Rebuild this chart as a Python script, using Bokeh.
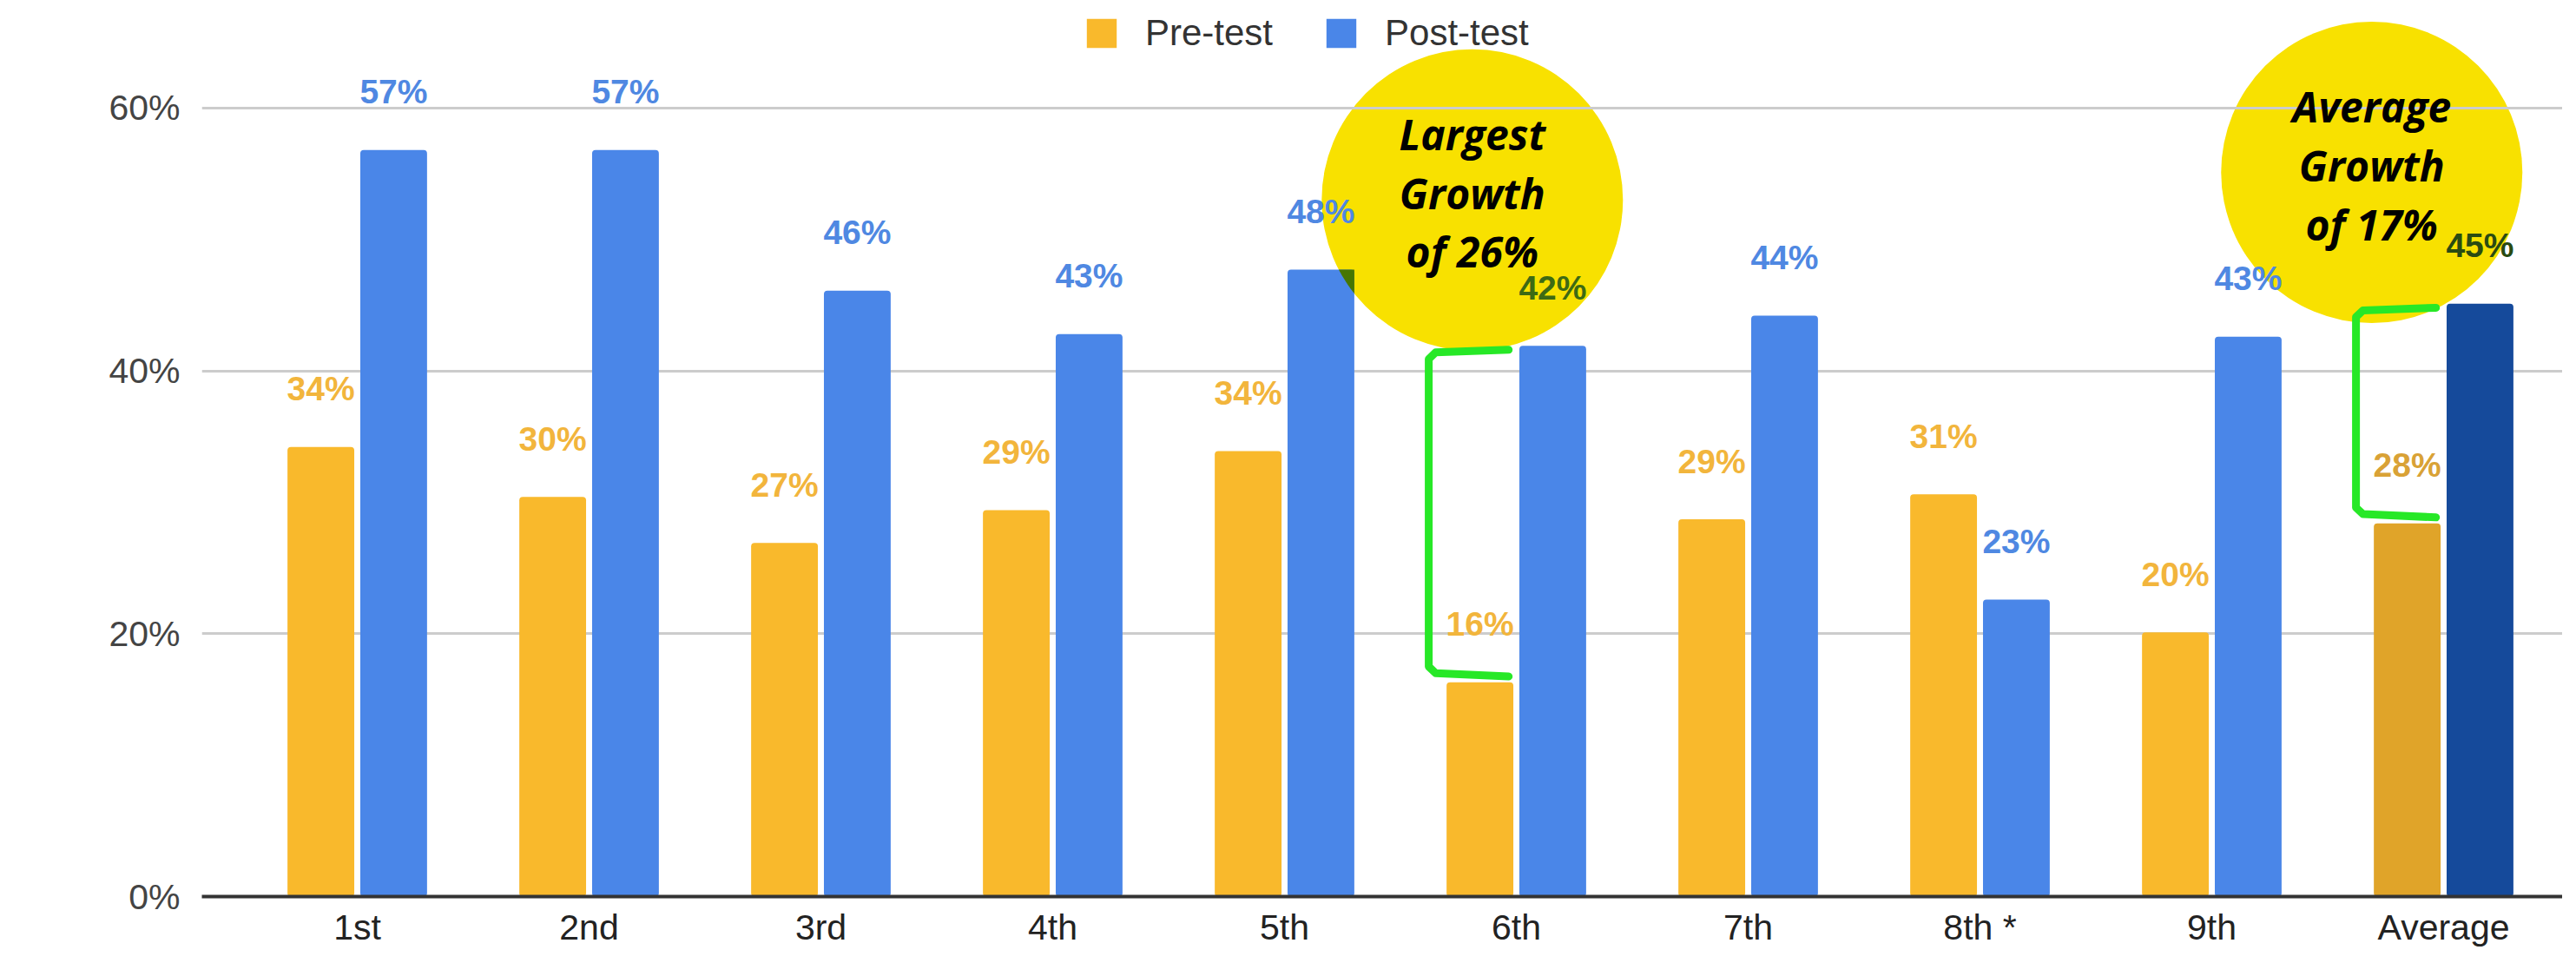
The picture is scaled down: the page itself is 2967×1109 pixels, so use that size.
import math
from bokeh.plotting import figure
from bokeh.models import (ColumnDataSource, Range1d, FixedTicker, PrintfTickFormatter,
                          Legend, LegendItem, Label)
from bokeh.transform import dodge
from bokeh.core.properties import value
from bokeh.embed import file_html
from bokeh.resources import INLINE

# ---------------- data ----------------
grades = ["1st", "2nd", "3rd", "4th", "5th", "6th", "7th", "8th *", "9th", "Average"]
pre_test = [34.2, 30.4, 26.9, 29.4, 33.9, 16.3, 28.7, 30.6, 20.1, 28.4]
post_test = [56.8, 56.8, 46.1, 42.8, 47.7, 41.9, 44.2, 22.6, 42.6, 45.1]
y_ticks = [0, 20, 40, 60]

# callouts
callout_grades = ["6th", "Average"]
callout_texts = ["Largest\nGrowth\nof 26%", "Average\nGrowth\nof 17%"]
callout_x = [4.81, 8.69]      # circle centres (data coordinates)
callout_y = [53.0, 55.1]

# ---------------- styling ----------------
PRE = "#f9b92c"
POST = "#4a86e8"
AVG_PRE = "#e0a429"
AVG_POST = "#154a9b"
PRE_LBL = "#f2b53c"
POST_LBL = "#4f88e2"
AVG_PRE_LBL = "#d9a236"
OLIVE = "#3d6a14"
DARK_OLIVE = "#2a4b12"
YELLOW = "#f8e100"
GREEN = "#27e827"
FONT = "Liberation Sans"

OFF = 0.157
BW = 0.288
CIRCLE_D = 347          # px
X0, X1 = -0.6704, 9.513
Y0, Y1 = 0, 68.18
FRAME_W, FRAME_H = 2719, 1033
SX = FRAME_W / (X1 - X0)
SY = FRAME_H / (Y1 - Y0)

n = len(grades)
idx = list(range(n))
is_avg = [g == "Average" for g in grades]

pre_color = [AVG_PRE if a else PRE for a in is_avg]
post_color = [AVG_POST if a else POST for a in is_avg]
pre_lbl_color = [AVG_PRE_LBL if a else PRE_LBL for a in is_avg]
post_lbl_color = []
for g, a in zip(grades, is_avg):
    if a:
        post_lbl_color.append(DARK_OLIVE)
    elif g in callout_grades:
        post_lbl_color.append(OLIVE)
    else:
        post_lbl_color.append(POST_LBL)

src = ColumnDataSource(dict(
    x=idx, pre=pre_test, post=post_test,
    pre_label=[f"{round(v)}%" for v in pre_test],
    post_label=[f"{round(v)}%" for v in post_test],
    pre_color=pre_color, post_color=post_color,
    pre_lbl_color=pre_lbl_color, post_lbl_color=post_lbl_color,
))

p = figure(width=2951, height=1093,
           x_range=Range1d(X0, X1), y_range=Range1d(Y0, Y1),
           output_backend="svg", toolbar_location=None,
           min_border_left=232, min_border_right=0, min_border_top=0, min_border_bottom=60)
p.outline_line_color = None
p.background_fill_color = "white"
p.xgrid.visible = False

# highlight circles (lowest level, under grid and bars)
p.scatter(x=callout_x, y=callout_y, size=CIRCLE_D, marker="circle",
          fill_color=YELLOW, line_color=None, level="image")

# bars
r_pre = p.vbar(x=dodge("x", -OFF), top="pre", bottom=0, width=BW, source=src,
               fill_color="pre_color", line_color=None, border_radius=4)
r_post = p.vbar(x=dodge("x", OFF), top="post", bottom=0, width=BW, source=src,
                fill_color="post_color", line_color=None, border_radius=4)


# highlighter (multiply) look where a circle overlaps a bar
def hex_rgb(h):
    h = h.lstrip("#")
    return tuple(int(h[k:k + 2], 16) for k in (0, 2, 4))


def multiply(c1, c2):
    a, b = hex_rgb(c1), hex_rgb(c2)
    return "#%02x%02x%02x" % tuple(int(u * v / 255) for u, v in zip(a, b))


def clip(poly, xmin, xmax, ymin, ymax):
    def clip_edge(pts, inside, inter):
        out = []
        for k in range(len(pts)):
            cur, prev = pts[k], pts[k - 1]
            if inside(cur):
                if not inside(prev):
                    out.append(inter(prev, cur))
                out.append(cur)
            elif inside(prev):
                out.append(inter(prev, cur))
        return out

    def ix(xc):
        return lambda p1, p2: (xc, p1[1] + (p2[1] - p1[1]) * (xc - p1[0]) / (p2[0] - p1[0]))

    def iy(yc):
        return lambda p1, p2: (p1[0] + (p2[0] - p1[0]) * (yc - p1[1]) / (p2[1] - p1[1]), yc)

    pts = poly
    for inside, inter in ((lambda q: q[0] >= xmin, ix(xmin)), (lambda q: q[0] <= xmax, ix(xmax)),
                          (lambda q: q[1] >= ymin, iy(ymin)), (lambda q: q[1] <= ymax, iy(ymax))):
        if not pts:
            break
        pts = clip_edge(pts, inside, inter)
    return pts


ov_xs, ov_ys, ov_col = [], [], []
r_px = CIRCLE_D / 2
for cx, cy in zip(callout_x, callout_y):
    circ = [(cx * SX + r_px * math.cos(t * math.pi / 90), cy * SY + r_px * math.sin(t * math.pi / 90))
            for t in range(180)]
    for vals, cols, off in ((pre_test, pre_color, -OFF), (post_test, post_color, OFF)):
        for i, (v, c) in enumerate(zip(vals, cols)):
            xa, xb = (i + off - BW / 2) * SX, (i + off + BW / 2) * SX
            pts = clip(circ, xa, xb, 0, v * SY)
            if len(pts) >= 3:
                ov_xs.append([q[0] / SX for q in pts])
                ov_ys.append([q[1] / SY for q in pts])
                ov_col.append(multiply(c, YELLOW))
if ov_xs:
    p.patches(xs=ov_xs, ys=ov_ys, fill_color=ov_col, line_color=None)

# value labels
p.text(x=dodge("x", -OFF), y="pre", text="pre_label", source=src,
       text_color="pre_lbl_color", text_align="center", text_baseline="middle",
       y_offset=-67, text_font=value(FONT), text_font_style="bold", text_font_size="39px")
p.text(x=dodge("x", OFF), y="post", text="post_label", source=src,
       text_color="post_lbl_color", text_align="center", text_baseline="middle",
       y_offset=-67, text_font=value(FONT), text_font_style="bold", text_font_size="39px")

# growth brackets
bxs, bys = [], []
for g in callout_grades:
    i = grades.index(g)
    vx = i - 0.378
    ex = i - 0.033
    lo = pre_test[i] + 0.7
    hi = post_test[i] - 0.5
    bxs.append([ex, vx + 0.03, vx, vx, vx + 0.03, ex])
    bys.append([hi + 0.2, hi, hi - 0.5, lo + 0.5, lo, lo - 0.25])
p.multi_line(xs=bxs, ys=bys, line_color=GREEN, line_width=9,
             line_join="round", line_cap="round")

# callout texts
p.text(x=callout_x, y=callout_y, text=callout_texts, text_align="center",
       text_baseline="middle", y_offset=-8, text_color="black",
       text_font=value("Open Sans"), text_font_style="bold italic",
       text_font_size="48px", text_line_height=1.04)

# axes
p.yaxis.ticker = FixedTicker(ticks=y_ticks)
p.yaxis.formatter = PrintfTickFormatter(format="%d%%")
p.yaxis.axis_line_color = None
p.yaxis.major_tick_line_color = None
p.yaxis.minor_tick_line_color = None
p.yaxis.major_tick_out = 0
p.yaxis.major_tick_in = 0
p.yaxis.minor_tick_out = 0
p.yaxis.major_label_standoff = 25
p.yaxis.axis_label_standoff = 0
p.yaxis.major_label_text_font = FONT
p.yaxis.major_label_text_font_size = "41px"
p.yaxis.major_label_text_color = "#444444"

p.ygrid.grid_line_color = "#cccccc"
p.ygrid.grid_line_width = 3

p.xaxis.ticker = FixedTicker(ticks=idx)
p.xaxis.major_label_overrides = {i: g for i, g in enumerate(grades)}
p.xaxis.axis_line_color = "#333333"
p.xaxis.axis_line_width = 4
p.xaxis.major_tick_line_color = None
p.xaxis.minor_tick_line_color = None
p.xaxis.major_tick_out = 0
p.xaxis.major_tick_in = 0
p.xaxis.minor_tick_out = 0
p.xaxis.axis_label_standoff = 0
p.xaxis.major_label_standoff = 12
p.xaxis.major_label_text_font = FONT
p.xaxis.major_label_text_font_size = "41px"
p.xaxis.major_label_text_color = "#222222"

# y axis title
p.add_layout(Label(x=-1.412, y=28.4, x_units="data", y_units="data",
                   text="Average % Score", angle=math.pi / 2,
                   text_align="center", text_baseline="middle",
                   text_font=FONT, text_font_size="42px", text_color="#333333"))

# legend
legend = Legend(items=[LegendItem(label="Pre-test", renderers=[r_pre], index=0),
                       LegendItem(label="Post-test", renderers=[r_post], index=0)],
                orientation="horizontal", location=(1015, 970),
                glyph_width=43, glyph_height=42, label_standoff=29, spacing=57,
                label_text_font=FONT, label_text_font_size="42px",
                label_text_color="#333333", label_height=42,
                border_line_color=None, background_fill_alpha=0,
                padding=0, margin=0)
p.add_layout(legend, "center")

open("out.html", "w").write(file_html(p, INLINE))
